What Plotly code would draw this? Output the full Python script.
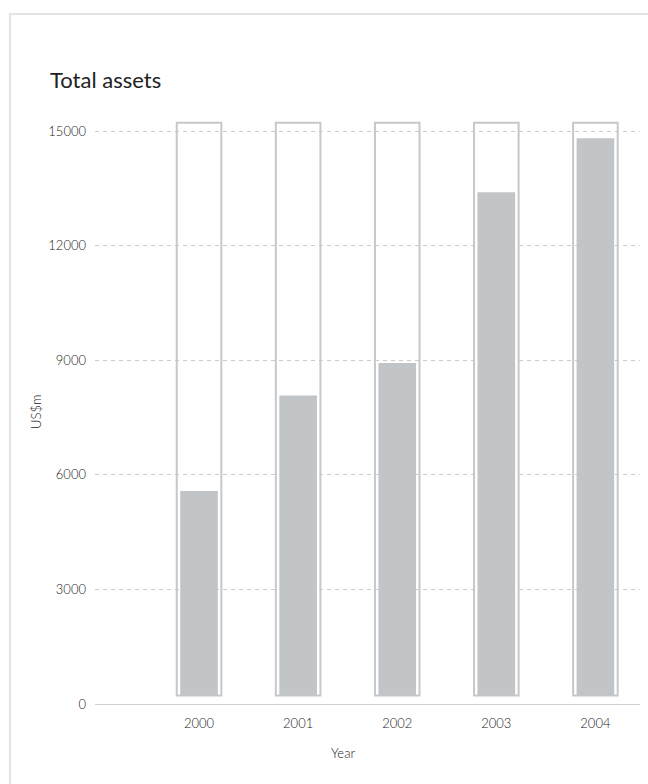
import plotly.graph_objects as go

# Total assets by year, US$ millions
years = ["2000", "2001", "2002", "2003", "2004"]
total_assets = [5580, 8080, 8930, 13400, 14810]
# scale ceiling drawn as an empty frame behind each bar
scale_ceiling = [15220, 15220, 15220, 15220, 15220]
y_ticks = [0, 3000, 6000, 9000, 12000, 15000]

BAR_BASE = 220  # bars sit slightly above the zero line

W, H = 648, 784
L, R, T, B = 95, 8, 112, 80
plot_w = W - L - R
plot_h = H - T - B

FONT = "Lato, 'Noto Sans', sans-serif"


def px_x(px):
    return (px - L) / plot_w


def px_y(py):
    return (H - B - py) / plot_h


idx = list(range(len(years)))

fig = go.Figure()

fig.add_trace(go.Bar(
    x=idx,
    y=[c - BAR_BASE for c in scale_ceiling],
    base=BAR_BASE,
    width=0.45,
    marker=dict(color="rgba(0,0,0,0)", line=dict(color="#c6c8ca", width=2)),
    hoverinfo="skip",
    showlegend=False,
))

fig.add_trace(go.Bar(
    x=idx,
    y=[v - BAR_BASE for v in total_assets],
    base=BAR_BASE,
    width=0.38,
    marker=dict(color="#c2c5c8", line=dict(width=0)),
    customdata=total_assets,
    hovertemplate="%{customdata}<extra></extra>",
    showlegend=False,
))

tick_font = dict(family=FONT, size=13, color="#222222", weight=300)

fig.update_layout(
    width=W,
    height=H,
    margin=dict(l=L, r=R, t=T, b=B),
    paper_bgcolor="white",
    plot_bgcolor="white",
    barmode="overlay",
    font=dict(family=FONT, size=13, color="#222222"),
    title=dict(
        text="Total assets",
        x=50 / W, xref="container", xanchor="left",
        y=1 - 80 / H, yref="container", yanchor="middle",
        font=dict(family=FONT, size=22, color="#222222", weight=400),
    ),
    xaxis=dict(
        range=[-1.05, 4.45],
        tickmode="array",
        tickvals=idx,
        ticktext=years,
        tickfont=tick_font,
        showgrid=False,
        zeroline=False,
        showline=True,
        linecolor="#cfd1d3",
        linewidth=1,
        ticks="",
        ticklabelstandoff=7,
        fixedrange=True,
    ),
    yaxis=dict(
        range=[0, 15500],
        tickmode="array",
        tickvals=y_ticks,
        ticktext=[str(t) for t in y_ticks],
        tickfont=tick_font,
        showgrid=True,
        gridcolor="#cbcbcb",
        gridwidth=1,
        griddash="4px,4px",
        zeroline=False,
        showline=False,
        ticks="",
        ticklabelstandoff=8,
        fixedrange=True,
    ),
    annotations=[
        dict(text="US$m", xref="paper", yref="paper",
             x=px_x(36), y=px_y(412), textangle=-90,
             showarrow=False, xanchor="center", yanchor="middle",
             font=tick_font),
        dict(text="Year", xref="paper", yref="paper",
             x=px_x(343), y=px_y(753),
             showarrow=False, xanchor="center", yanchor="middle",
             font=tick_font),
    ],
    shapes=[
        dict(type="rect", xref="paper", yref="paper",
             x0=px_x(10), x1=px_x(W + 20), y0=px_y(H + 20), y1=px_y(14),
             line=dict(color="#e4e4e4", width=2), fillcolor="rgba(0,0,0,0)",
             layer="below"),
    ],
)

fig.write_html("out.html")
